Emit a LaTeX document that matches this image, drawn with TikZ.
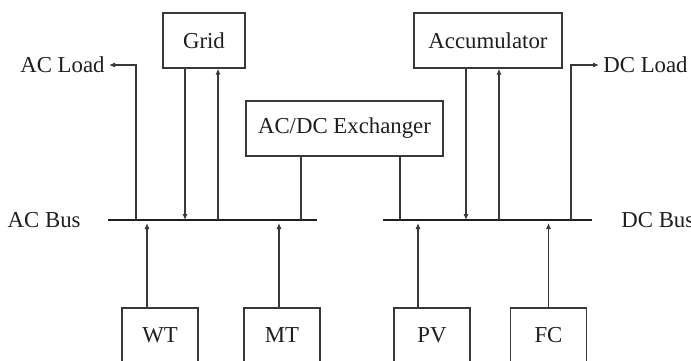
\documentclass[tikz,border=0pt]{standalone}
\usepackage{fontspec}
\setmainfont{Liberation Serif}
\usetikzlibrary{arrows.meta,positioning}
\definecolor{Ink}{HTML}{1E1E1E}
\definecolor{Wire}{HTML}{383838}
\tikzset{>=Latex,
 every node/.style={font=\fontsize{11.4}{13}\selectfont,text=Ink},
 unit/.style={draw=Wire,line width=.7pt,minimum height=27.5pt,inner sep=0pt},
 flow/.style={-{Latex[length=3pt,width=2.6pt]},draw=Wire,line width=.65pt},
 link/.style={draw=Wire,line width=.65pt},
 bus/.style={draw=Ink,line width=1pt},
 tag/.style={inner sep=2pt},
 }
\begin{document}
\begin{tikzpicture}[x=.5pt,y=-.5pt]
 \useasboundingbox (0,0) rectangle (691,360);
 \clip (0,0) rectangle (691,360);
 % sources and storage
 \node[unit,minimum width=41pt](grid)at(204,40.5){Grid};
 \node[unit,minimum width=74pt](acc)at(488,40.5){Accumulator};
 \node[unit,minimum width=98.5pt](conv)at(344.5,128.5){AC/DC Exchanger};
 \node[unit,minimum width=38pt](wt)at(160,335.5){WT};
 \node[unit,minimum width=38pt](mt)at(282,335.5){MT};
 \node[unit,minimum width=38pt](pv)at(432,335.5){PV};
 \node[unit,minimum width=38pt](fc)at(548.5,335.5){FC};
 % buses
 \coordinate(acL)at(108,220);\coordinate(acR)at(317,220);
 \coordinate(dcL)at(383,220);\coordinate(dcR)at(592,220);
 \draw[bus](acL)--(acR);\draw[bus](dcL)--(dcR);
 \node[tag,anchor=east](acbus)at(85,220){AC Bus};
 \node[tag,anchor=west](dcbus)at(617,220){DC Bus};
 % loads
 \node[tag,anchor=east](acload)at(109,65){AC Load};
 \node[tag,anchor=west](dcload)at(599,65){DC Load};
 \coordinate(acl)at(136,220);\coordinate(dcl)at(571,220);
 \draw[flow](acl)|-(acload.east);\draw[flow](dcl)|-(dcload.west);
 % grid and accumulator exchange
 \draw[flow]([xshift=-9.5pt]grid.south)--([xshift=-9.5pt]grid.south|-acL);
 \draw[flow]([xshift=7pt]grid.south|-acL)--([xshift=7pt]grid.south);
 \draw[flow]([xshift=-11pt]acc.south)--([xshift=-11pt]acc.south|-dcL);
 \draw[flow]([xshift=5.5pt]acc.south|-dcL)--([xshift=5.5pt]acc.south);
 \draw[link]([xshift=-21.75pt]conv.south)--([xshift=-21.75pt]conv.south|-acL);
 \draw[link]([xshift=27.75pt]conv.south)--([xshift=27.75pt]conv.south|-dcL);
 % generation
 \draw[flow,shorten >=1.5pt]([xshift=-6.5pt]wt.north)--([xshift=-6.5pt]wt.north|-acL);
 \draw[flow,shorten >=1.5pt]([xshift=-1.5pt]mt.north)--([xshift=-1.5pt]mt.north|-acL);
 \draw[flow,shorten >=1.5pt]([xshift=-7pt]pv.north)--([xshift=-7pt]pv.north|-dcL);
 \draw[flow,shorten >=1.5pt](fc.north)--(fc.north|-dcL);
\end{tikzpicture}
\end{document}
